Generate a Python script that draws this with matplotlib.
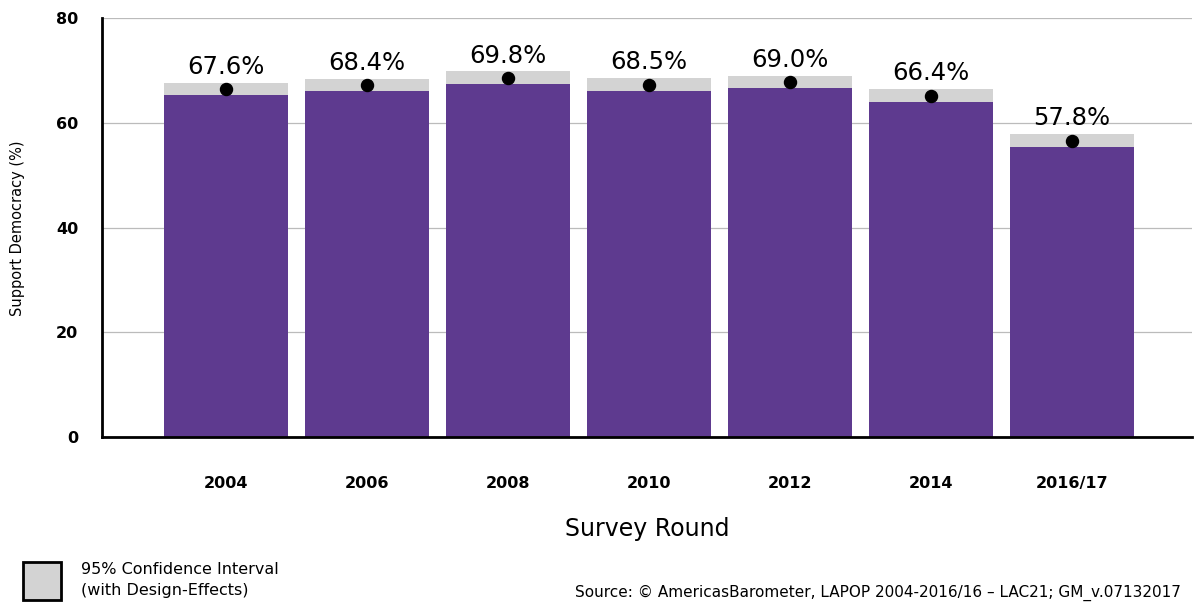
import numpy as np
import matplotlib.pyplot as plt

plt.rcParams['font.family'] = ['DejaVu Sans']

rounds = ['2004', '2006', '2008', '2010', '2012', '2014', '2016/17']
means = [66.4, 67.2, 68.6, 67.3, 67.8, 65.2, 56.6]
lower = [65.3, 66.0, 67.4, 66.1, 66.6, 64.0, 55.4]
upper = [67.6, 68.4, 69.8, 68.5, 69.0, 66.4, 57.8]

purple = '#5E3A8F'
ci_gray = '#D3D3D3'

fig = plt.figure(figsize=(11.95, 6.02), dpi=100)
ax = fig.add_axes([0.0854, 0.274, 0.912, 0.696])

x = np.arange(len(rounds))
w = 0.877
ax.bar(x, lower, width=w, color=purple, zorder=2)
ax.bar(x, np.array(upper) - np.array(lower), bottom=lower, width=w, color=ci_gray, zorder=2)
ax.scatter(x, means, s=75, color='black', zorder=3)

for xi, up in zip(x, upper):
    ax.text(xi, up + 1.7, f'{up:.1f}%', ha='center', va='baseline', fontsize=17.5, zorder=4)

ax.set_xlim(-0.877, 6.85)
ax.set_ylim(0, 80)
ax.set_yticks([0, 20, 40, 60, 80])
ax.yaxis.grid(True, color='#BBBBBB', linewidth=0.9, zorder=0)
ax.set_axisbelow(True)
for s in ['top', 'right']:
    ax.spines[s].set_visible(False)
for s in ['left', 'bottom']:
    ax.spines[s].set_linewidth(2)
    ax.spines[s].set_color('black')
ax.tick_params(axis='both', length=0, labelsize=11.5)
ax.tick_params(axis='y', pad=17)
ax.tick_params(axis='x', pad=28)
ax.set_xticks(x)
ax.set_xticklabels(rounds, fontweight='bold')
for lab in ax.get_yticklabels():
    lab.set_fontweight('bold')

fig.text(18 / 1195, 1 - 228 / 602, 'Support Democracy (%)', fontsize=10.5,
         rotation=90, ha='center', va='center')
ax.set_xlabel('Survey Round', fontsize=17, labelpad=19)

# legend box for the CI
fig.patches.append(plt.Rectangle((23 / 1195, 2 / 602), 38 / 1195, 38 / 602,
                                 transform=fig.transFigure, facecolor=ci_gray,
                                 edgecolor='black', linewidth=2))
fig.text(81 / 1195, 1 - 570 / 602, '95% Confidence Interval', fontsize=11.5, va='center')
fig.text(81 / 1195, 1 - 591 / 602, '(with Design-Effects)', fontsize=11.5, va='center')
fig.text(1181 / 1195, 1 - 593 / 602,
         'Source: \u00a9 AmericasBarometer, LAPOP 2004-2016/16 \u2013 LAC21; GM_v.07132017',
         fontsize=11, ha='right', va='center')

fig.savefig('out.png', dpi=100)
